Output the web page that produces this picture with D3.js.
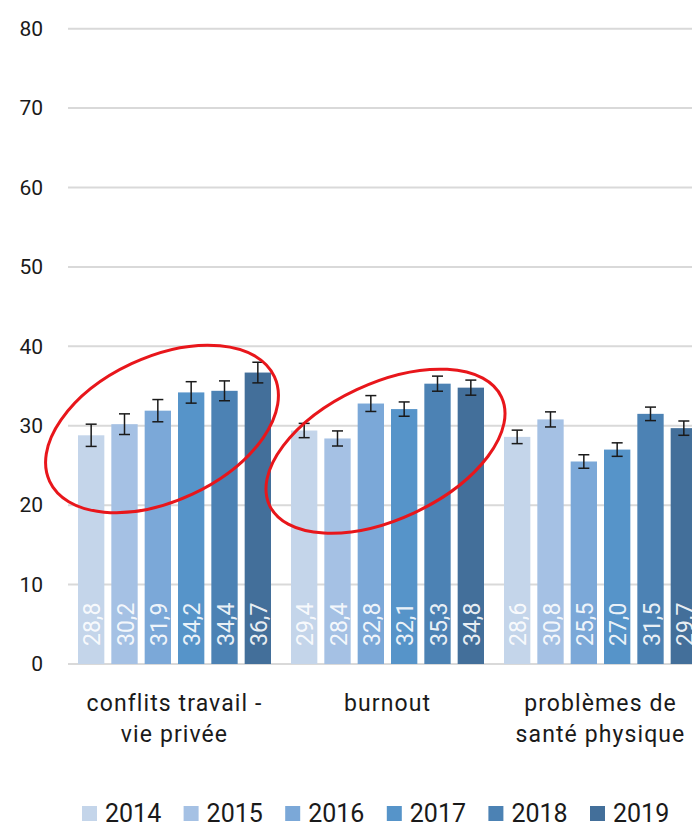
<!DOCTYPE html>
<html>
<head>
<meta charset="utf-8">
<script src="https://cdn.jsdelivr.net/npm/d3@7"></script>
<style>
  body { margin: 0; background: #fff; }
  svg { display: block; font-family: Roboto, "DejaVu Sans", sans-serif; }
</style>
</head>
<body>
<svg id="chart"></svg>
<script>
// data
const categories = ["conflits travail - vie privée", "burnout", "problèmes de santé physique"];
const categoryLines = [["conflits travail -", "vie privée"], ["burnout"], ["problèmes de", "santé physique"]];
const years = ["2014", "2015", "2016", "2017", "2018", "2019"];

const v2014 = [28.8, 29.4, 28.6];
const v2015 = [30.2, 28.4, 30.8];
const v2016 = [31.9, 32.8, 25.5];
const v2017 = [34.2, 32.1, 27.0];
const v2018 = [34.4, 35.3, 31.5];
const v2019 = [36.7, 34.8, 29.7];

// error margins (+/-)
const e2014 = [1.4, 0.9, 0.85];
const e2015 = [1.3, 0.95, 0.95];
const e2016 = [1.4, 1.0, 0.85];
const e2017 = [1.35, 0.9, 0.85];
const e2018 = [1.25, 0.95, 0.85];
const e2019 = [1.3, 0.95, 0.9];

const yTicks = [0, 10, 20, 30, 40, 50, 60, 70, 80];

const seriesValues = [v2014, v2015, v2016, v2017, v2018, v2019];
const seriesErrors = [e2014, e2015, e2016, e2017, e2018, e2019];

const colors = ["#c4d5ea", "#a5c1e4", "#7ba8d8", "#5694c9", "#4c82b4", "#436f9a"];

const width = 692, height = 825;
const margin = { top: 28.7, left: 68, bottom: 161 };
const innerW = 639; // last group runs off the right edge, as in the original
const innerH = height - margin.top - margin.bottom;

const svg = d3.select("#chart").attr("width", width).attr("height", height);
const g = svg.append("g").attr("transform", `translate(${margin.left},${margin.top})`);

const x0 = d3.scaleBand().domain(categories).range([0, innerW]).padding(0);
const x1 = d3.scaleBand().domain(years).range([0, x0.bandwidth()])
    .paddingInner(0.21).paddingOuter(0.3);
const y = d3.scaleLinear().domain([0, 80]).range([innerH, 0]);
const color = d3.scaleOrdinal().domain(years).range(colors);

// grid
g.selectAll(".grid")
    .data(yTicks)
    .join("line")
    .attr("x1", 0).attr("x2", innerW)
    .attr("y1", d => y(d)).attr("y2", d => y(d))
    .attr("stroke", "#d9d9d9")
    .attr("stroke-width", 2);

// y axis
const yAxis = d3.axisLeft(y).tickValues(yTicks).tickSize(0).tickPadding(25);
const yAxisG = g.append("g").call(yAxis);
yAxisG.select(".domain").remove();
yAxisG.selectAll("text")
    .attr("font-size", 21)
    .attr("font-family", "Roboto")
    .attr("fill", "#1a1a1a");

// bars
const rows = [];
categories.forEach((c, ci) => {
    years.forEach((yr, si) => {
        rows.push({ cat: c, year: yr, value: seriesValues[si][ci], err: seriesErrors[si][ci] });
    });
});

const bars = g.selectAll(".bar")
    .data(rows)
    .join("g")
    .attr("transform", d => `translate(${x0(d.cat) + x1(d.year)},0)`);

bars.append("rect")
    .attr("x", 0)
    .attr("width", x1.bandwidth())
    .attr("y", d => y(d.value))
    .attr("height", d => y(0) - y(d.value))
    .attr("fill", d => color(d.year));

// value labels, rotated
bars.append("text")
    .attr("transform", d => `translate(${x1.bandwidth() / 2 + 1},${y(0) - 18}) rotate(-90)`)
    .attr("dy", "0.36em")
    .attr("font-size", 23)
    .attr("fill", "#ffffff")
    .attr("fill-opacity", 0.9)
    .text(d => d.value.toFixed(1).replace(".", ","));

// error bars
const cap = 5.5;
const eb = bars.append("g")
    .attr("stroke", "#1a1a1a")
    .attr("stroke-width", 1.5);
eb.append("line")
    .attr("x1", x1.bandwidth() / 2).attr("x2", x1.bandwidth() / 2)
    .attr("y1", d => y(d.value + d.err)).attr("y2", d => y(d.value - d.err));
eb.append("line")
    .attr("x1", x1.bandwidth() / 2 - cap).attr("x2", x1.bandwidth() / 2 + cap)
    .attr("y1", d => y(d.value + d.err)).attr("y2", d => y(d.value + d.err));
eb.append("line")
    .attr("x1", x1.bandwidth() / 2 - cap).attr("x2", x1.bandwidth() / 2 + cap)
    .attr("y1", d => y(d.value - d.err)).attr("y2", d => y(d.value - d.err));

// category labels
const catG = g.selectAll(".cat")
    .data(categories)
    .join("text")
    .attr("text-anchor", "middle")
    .attr("font-size", 23)
    .attr("letter-spacing", 1.1)
    .attr("fill", "#1a1a1a")
    .attr("transform", d => `translate(${x0(d) + x0.bandwidth() / 2},${y(0) + 47})`);
catG.selectAll("tspan")
    .data((d, i) => categoryLines[i])
    .join("tspan")
    .attr("x", 0)
    .attr("y", (d, i) => i * 31)
    .text(d => d);

// hand-drawn style highlight ellipses
const highlights = [
    { cat: categories[0], value: 29.6, dx: -12.5, rx: 124, ry: 72, rot: -25 },
    { cat: categories[1], value: 26.8, dx: -2, rx: 128, ry: 68, rot: -25 }
];
g.selectAll(".hl")
    .data(highlights)
    .join("ellipse")
    .attr("transform", d => `translate(${x0(d.cat) + x0.bandwidth() / 2 + d.dx},${y(d.value)}) rotate(${d.rot})`)
    .attr("rx", d => d.rx)
    .attr("ry", d => d.ry)
    .attr("fill", "none")
    .attr("stroke", "#e8161b")
    .attr("stroke-width", 3);

// legend
const legend = svg.append("g").attr("transform", "translate(82,806)");
const item = legend.selectAll("g")
    .data(years)
    .join("g")
    .attr("transform", (d, i) => `translate(${i * 101.6},0)`);
item.append("rect")
    .attr("width", 15).attr("height", 15)
    .attr("fill", d => color(d));
item.append("text")
    .attr("x", 23)
    .attr("y", 15.5)
    .attr("font-size", 25)
    .attr("fill", "#1a1a1a")
    .text(d => d);
</script>
</body>
</html>
